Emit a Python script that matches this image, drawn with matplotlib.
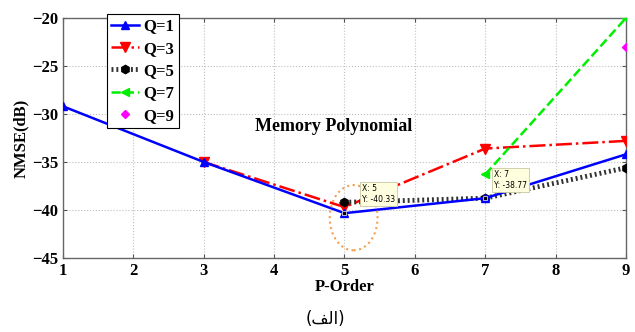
import matplotlib.pyplot as plt
from matplotlib.patches import Ellipse

# P-order values
p_q1 = [1, 3, 5, 7, 9]
nmse_q1 = [-29.2, -35.0, -40.33, -38.77, -34.2]

p_q3 = [3, 5, 7, 9]
nmse_q3 = [-35.0, -39.7, -33.6, -32.8]

p_q5 = [5, 7, 9]
nmse_q5 = [-39.2, -38.77, -35.6]

p_q7 = [7, 9]
nmse_q7 = [-36.3, -20.0]

p_q9 = [9]
nmse_q9 = [-23.0]

x_ticks = [1, 2, 3, 4, 5, 6, 7, 8, 9]
y_ticks = [-45, -40, -35, -30, -25, -20]

serif = 'Liberation Serif'

fig = plt.figure(figsize=(6.35, 3.32), dpi=100)
ax = fig.add_axes([0.0992, 0.2229, 0.8866, 0.7229])

ax.plot(p_q1, nmse_q1, '-', color='blue', marker='^', lw=1.8, ms=6, label='Q=1', zorder=4)
ax.plot(p_q3, nmse_q3, '-.', color='red', marker='v', lw=1.8, ms=7, label='Q=3', zorder=3)
ax.plot(p_q5, nmse_q5, linestyle=(0, (0.4, 0.6)), color='#333333', marker='h', mfc='black',
        mec='black', lw=3.5, ms=6, label='Q=5', zorder=3)
ax.plot(p_q7, nmse_q7, '--', color='#00ee00', marker='<', lw=1.8, ms=6, label='Q=7', zorder=3)
ax.plot(p_q9, nmse_q9, linestyle='none', color='magenta', marker='D', ms=4, label='Q=9', zorder=3)

ax.set_xlim(1, 9)
ax.set_ylim(-45, -20)
ax.set_xticks(x_ticks)
ax.set_yticks(y_ticks)
ax.grid(True, color='#c0c0c0', linestyle=':', linewidth=0.8)
ax.tick_params(direction='in', top=True, right=True, length=3, color='#555555')
for lab in ax.get_xticklabels() + ax.get_yticklabels():
    lab.set_fontfamily(serif)
    lab.set_fontweight('bold')
    lab.set_fontsize(12)
for s in ax.spines.values():
    s.set_color('#666666')
    s.set_linewidth(1.0)

ax.set_xlabel('P-Order', fontfamily=serif, fontweight='bold', fontsize=12, labelpad=0)
ax.set_ylabel('NMSE(dB)', fontfamily=serif, fontweight='bold', fontsize=12, labelpad=2)

ax.text(4.84, -31.35, 'Memory Polynomial', fontfamily=serif, fontweight='bold',
        fontsize=13, ha='center', va='center')

# data tips
tip_style = dict(boxstyle='square,pad=0.25', fc='#ffffe0', ec='#c8c8a0', lw=0.6)
ax.text(5.25, -38.3, 'X: 5\nY: -40.33', fontsize=5.5, va='center', ha='left',
        bbox=tip_style, zorder=6, linespacing=1.3)
ax.text(7.12, -36.9, 'X: 7\nY: -38.77', fontsize=5.5, va='center', ha='left',
        bbox=tip_style, zorder=6, linespacing=1.3)
ax.plot([5, 7], [nmse_q1[2], nmse_q1[3]], 's', color='black', ms=3, mec='white', mew=0.5,
        zorder=6, ls='none')

ax.add_patch(Ellipse((5.13, -40.8), 0.68, 6.8, fill=False, edgecolor='#f5a050',
                     linestyle=':', linewidth=1.5, zorder=5))

leg = ax.legend(loc='upper left', bbox_to_anchor=(0.078, 1.015), frameon=True,
                fancybox=False, edgecolor='black', framealpha=1,
                prop={'family': serif, 'weight': 'bold', 'size': 12},
                handlelength=1.7, handletextpad=0.25, borderpad=0.25, labelspacing=0.38,
                borderaxespad=0)
leg.get_frame().set_linewidth(0.8)

# Arabic caption "(الف)" in presentation forms for correct visual order
fig.text(0.513, 0.04, '(\uFED2\uFEDF\uFE8D)', fontfamily='DejaVu Sans', fontsize=12,
         ha='center', va='center')

fig.savefig('out.png', dpi=100)
